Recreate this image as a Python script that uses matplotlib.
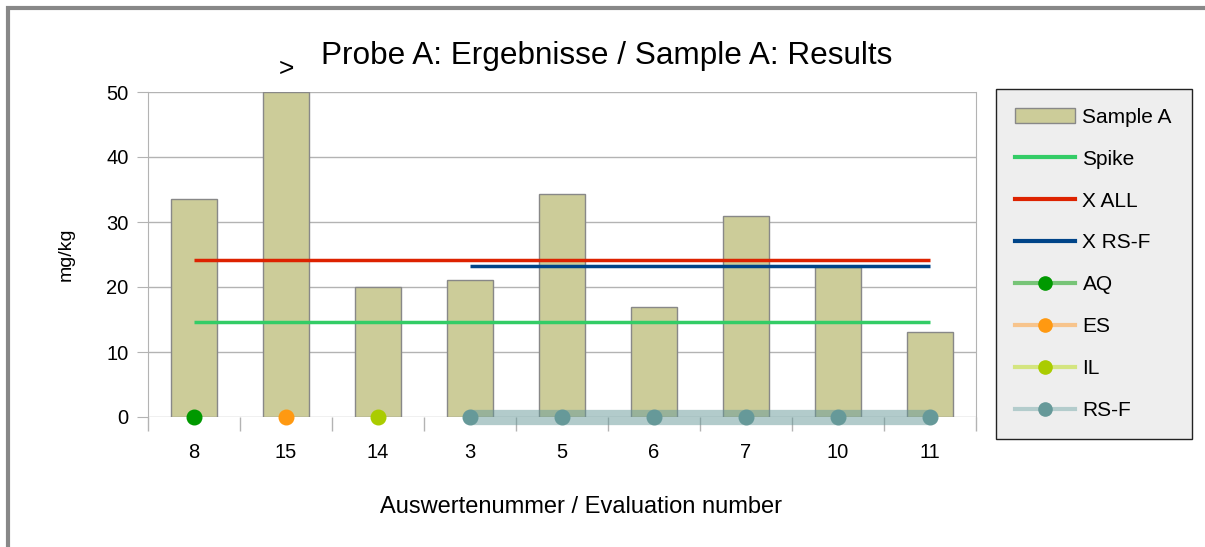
import matplotlib
matplotlib.use("Agg")
import matplotlib.pyplot as plt
from matplotlib.patches import Rectangle
from matplotlib.lines import Line2D
import numpy as np

categories = ["8", "15", "14", "3", "5", "6", "7", "10", "11"]
sample_a = [33.5, 50.0, 20.0, 21.1, 34.3, 16.9, 30.9, 23.1, 13.1]
spike = 14.6
x_all = 24.1
x_rsf = 23.2
rsf_start = "3"
labs_aq = ["8"]
labs_es = ["15"]
labs_il = ["14"]
labs_rsf = ["3", "5", "6", "7", "10", "11"]
over_range = ["15"]

plt.rcParams['font.family'] = ['Liberation Sans', 'DejaVu Sans']
fig = plt.figure(figsize=(12.05, 5.47), dpi=100)

# outer frame
fig.patches.append(Rectangle((8 / 1205, -0.1), 1.2, (547 - 8) / 547 + 0.1,
                             transform=fig.transFigure, fill=False,
                             edgecolor="#888888", linewidth=3))

ax = fig.add_axes([148 / 1205, 1 - 417 / 547, (976 - 148) / 1205, (417 - 92) / 547])
x = np.arange(len(categories))
idx = {c: i for i, c in enumerate(categories)}

ax.bar(x, sample_a, width=0.5, color="#cccc99", edgecolor="#888888", linewidth=1, zorder=2)

ax.hlines(spike, x[0], x[-1], color="#33cc66", linewidth=2.5, zorder=3)
ax.hlines(x_all, x[0], x[-1], color="#dd2200", linewidth=2.5, zorder=3)
ax.hlines(x_rsf, idx[rsf_start], x[-1], color="#004488", linewidth=2.5, zorder=3)

rx = [idx[c] for c in labs_rsf]
ax.plot(rx, [0] * len(rx), color="#669999", alpha=0.5, linewidth=11,
        solid_capstyle="butt", zorder=4, clip_on=False)
ax.plot(rx, [0] * len(rx), "o", color="#669999", markersize=10.5, zorder=5, clip_on=False)
ax.plot([idx[c] for c in labs_aq], [0] * len(labs_aq), "o", color="#009900",
        markersize=10.5, zorder=5, clip_on=False)
ax.plot([idx[c] for c in labs_es], [0] * len(labs_es), "o", color="#ff9911",
        markersize=10.5, zorder=5, clip_on=False)
ax.plot([idx[c] for c in labs_il], [0] * len(labs_il), "o", color="#aacc00",
        markersize=10.5, zorder=5, clip_on=False)

for c in over_range:
    ax.text(idx[c], 53.5, ">", ha="center", va="center", fontsize=19)

ax.set_xlim(-0.5, len(categories) - 0.5)
ax.set_ylim(0, 50)
ax.set_yticks(range(0, 51, 10))
ax.set_xticks(x)
ax.set_xticklabels(categories)
ax.set_xticks(np.arange(-0.5, len(categories)), minor=True)
ax.tick_params(axis="x", which="major", length=0, labelsize=14.5, pad=19)
ax.tick_params(axis="x", which="minor", length=10, color="#b3b3b3", width=1)
ax.tick_params(axis="y", length=8, color="#b3b3b3", labelsize=14.5, pad=6)
ax.grid(axis="y", color="#b3b3b3", linewidth=1, zorder=0)
for side in ["left", "right"]:
    ax.spines[side].set_color("#b3b3b3")
ax.spines["top"].set_visible(False)
ax.spines["bottom"].set_visible(False)

ax.set_ylabel("mg/kg", fontsize=14, labelpad=23)
ax.set_xlabel("Auswertenummer / Evaluation number", fontsize=17, labelpad=24)
ax.xaxis.label.set_x(0.523)
fig.text(607 / 1205, 1 - 56 / 547, "Probe A: Ergebnisse / Sample A: Results",
         ha="center", va="center", fontsize=22.7)

handles = [
    Rectangle((0, 0), 1, 1, facecolor="#cccc99", edgecolor="#888888"),
    Line2D([], [], color="#33cc66", linewidth=3),
    Line2D([], [], color="#dd2200", linewidth=3),
    Line2D([], [], color="#004488", linewidth=3),
    Line2D([], [], color="#77c477", linewidth=3, marker="o", markersize=9.5,
           markerfacecolor="#009900", markeredgecolor="#009900"),
    Line2D([], [], color="#f7c48c", linewidth=3, marker="o", markersize=9.5,
           markerfacecolor="#ff9911", markeredgecolor="#ff9911"),
    Line2D([], [], color="#d4e580", linewidth=3, marker="o", markersize=9.5,
           markerfacecolor="#aacc00", markeredgecolor="#aacc00"),
    Line2D([], [], color="#b3cccc", linewidth=3, marker="o", markersize=9.5,
           markerfacecolor="#669999", markeredgecolor="#669999"),
]
labels = ["Sample A", "Spike", "X ALL", "X RS-F", "AQ", "ES", "IL", "RS-F"]
leg = fig.legend(handles, labels, loc="upper left",
                 bbox_to_anchor=(996 / 1205, 1 - 437 / 547, 196 / 1205, 348 / 547),
                 mode="expand", fontsize=15, frameon=True, fancybox=False,
                 handlelength=2.9, labelspacing=1.1, borderpad=0.9,
                 handletextpad=0.35, borderaxespad=0)
leg.get_frame().set_facecolor("#eeeeee")
leg.get_frame().set_edgecolor("#222222")
leg.get_frame().set_linewidth(1)
leg.get_frame().set_alpha(1)

fig.savefig("out.png", dpi=100)
